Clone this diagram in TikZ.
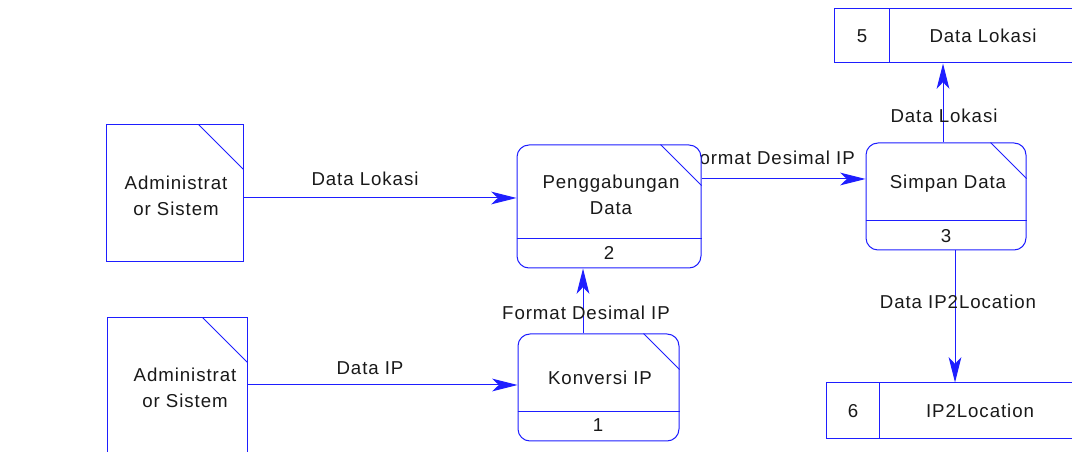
\documentclass[tikz,border=0pt]{standalone}
\usepackage{fontspec}
\setmainfont{Liberation Sans}[LetterSpace=5]
\usetikzlibrary{arrows.meta,calc}
\definecolor{dfdblue}{RGB}{30,30,255}
\definecolor{dfdtext}{RGB}{25,25,25}
\begin{document}
\begin{tikzpicture}[x=0.75pt,y=-0.75pt,
  entity/.style={draw=dfdblue, fill=white, line width=0.75pt, inner sep=0pt, rectangle},
  process/.style={entity, rounded corners=9pt},
  store/.style={entity},
  edge/.style={draw=dfdblue, line width=0.75pt},
  txt/.style={text=dfdtext, font=\fontsize{14}{19.5}\selectfont, align=center, inner sep=0pt},
  flow/.style={edge, -{Stealth[length=19pt,width=9.5pt,inset=5pt]}}]
\useasboundingbox (0,0) rectangle (1072,452);
\clip (0,0) rectangle (1072,452);

% flow label partly hidden behind the process box
\node[txt] (l4) at (771,158) {Format Desimal IP};

% external entities
\node[entity, minimum width=102.75pt, minimum height=102.75pt] (e1) at (174.5,193.5) {};
\node[entity, minimum width=105pt, minimum height=102.75pt] (e2) at (177,386.5) {};
\draw[edge] ([xshift=-33.75pt]e1.north east) -- ([yshift=-33.75pt]e1.north east);
\draw[edge] ([xshift=-33.75pt]e2.north east) -- ([yshift=-33.75pt]e2.north east);
\node[txt] (e1t) at (176,196) {Administrat\\or Sistem};
\node[txt] (e2t) at (185,388) {Administrat\\or Sistem};

% processes
\node[process, minimum width=138pt, minimum height=92.25pt] (p2) at (609,206.5) {};
\node[process, minimum width=120.75pt, minimum height=80.25pt] (p1) at (598.5,387.5) {};
\node[process, minimum width=120pt, minimum height=80.25pt] (p3) at (946,196.5) {};
\foreach \p/\d in {p2/30.75pt, p1/27pt, p3/27pt}{
  \draw[edge] ([xshift=-\d]\p.north east) -- ([yshift=-\d]\p.north east);
  \draw[edge] ([yshift=22.5pt]\p.south west) -- ([yshift=22.5pt]\p.south east);
}
\node[txt] (p2t) at (611,195) {Penggabungan\\Data};
\node[txt] (p2n) at (609,253) {2};
\node[txt] (p1t) at (600,378) {Konversi IP};
\node[txt] (p1n) at (598,425) {1};
\node[txt] (p3t) at (948,184) {Simpan Data};
\node[txt] (p3n) at (946,236) {3};

% data stores
\node[store, minimum width=181.5pt, minimum height=40.5pt] (s5) at (955,36) {};
\node[store, minimum width=190.5pt, minimum height=42pt] (s6) at (953,411) {};
\draw[edge] ([xshift=42pt]s5.north west) -- ([xshift=42pt]s5.south west);
\draw[edge] ([xshift=40.5pt]s6.north west) -- ([xshift=40.5pt]s6.south west);
\node[txt] (s5n) at (862,36) {5};
\node[txt] (s5t) at (983,36) {Data Lokasi};
\node[txt] (s6n) at (853,411) {6};
\node[txt] (s6t) at (980,411) {IP2Location};

% data flows
\draw[flow] (e1.east |- 0,198) -- (p2.west |- 0,198);
\draw[flow] (e2.east |- 0,385) -- (p1.west |- 0,385);
\draw[flow] (p1.north -| 583,0) -- (p2.south -| 583,0);
\draw[flow] (p2.east |- 0,179) -- (p3.west |- 0,179);
\draw[flow] (p3.north -| 943,0) -- (s5.south -| 943,0);
\draw[flow] (p3.south -| 955,0) -- (s6.north -| 955,0);

% flow labels
\node[txt] (l1) at (365,179) {Data Lokasi};
\node[txt] (l2) at (370,368) {Data IP};
\node[txt] (l3) at (586,313) {Format Desimal IP};
\node[txt] (l5) at (944,116) {Data Lokasi};
\node[txt] (l6) at (958,302) {Data IP2Location};
\end{tikzpicture}
\end{document}
